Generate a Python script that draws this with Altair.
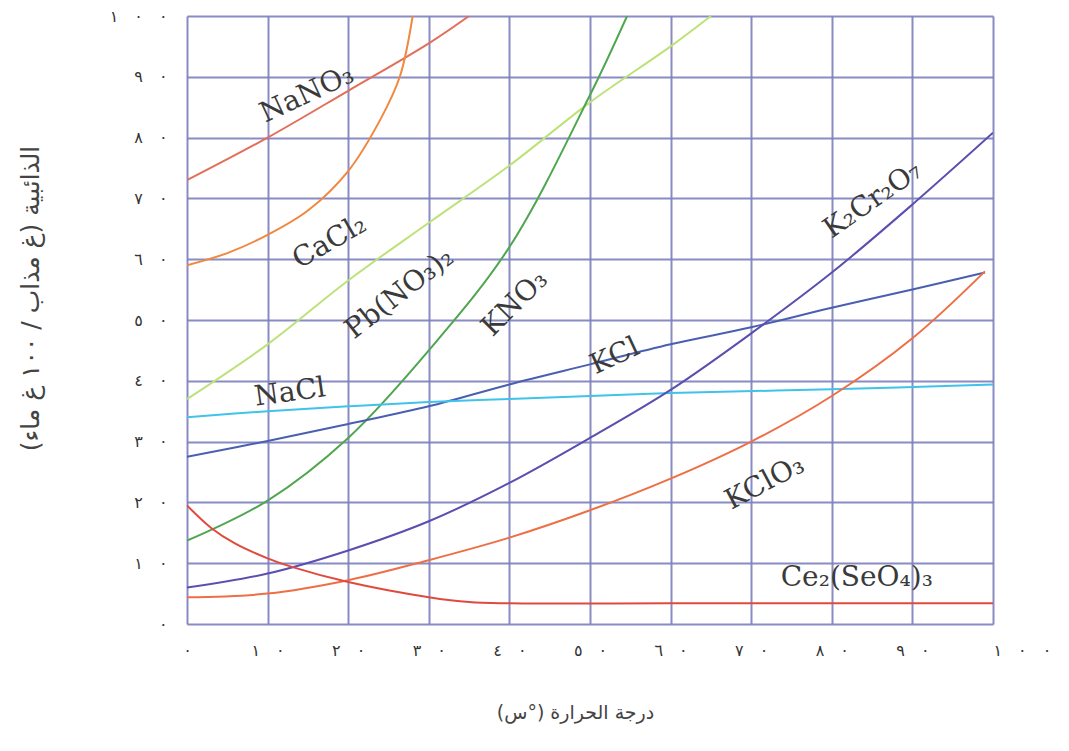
import altair as alt
import pandas as pd

# ---- curve data (temperature °C, solubility g / 100 g water) ----
nano3_x = [0, 10, 20, 30, 35]
nano3_y = [73, 80, 87.7, 95.5, 100]
cacl2_x = [0, 5, 10, 15, 20, 24, 26.4, 28]
cacl2_y = [59, 61, 64, 68, 74.5, 83, 90, 100]
pbno3_x = [0, 10, 20, 30, 40, 50, 60, 65]
pbno3_y = [37, 46, 56.5, 66, 75.4, 85.8, 95, 100]
kno3_x = [0, 10, 20, 30, 40, 50, 54.6]
kno3_y = [13.7, 20.3, 30.6, 45, 62, 87, 100]
kcl_x = [0, 10, 20, 30, 40, 50, 60, 70, 80, 90, 99]
kcl_y = [27.5, 30.1, 32.9, 35.8, 39.4, 42.7, 46, 48.8, 52, 55, 57.8]
nacl_x = [0, 10, 20, 30, 40, 50, 60, 80, 100]
nacl_y = [34, 35, 35.8, 36.5, 37, 37.5, 38, 38.6, 39.4]
k2cr2o7_x = [0, 10, 20, 30, 40, 50, 60, 70, 80, 90, 100]
k2cr2o7_y = [6, 8.3, 12.1, 16.9, 23.2, 30.6, 38.5, 47.8, 57.8, 69, 80.8]
kclo3_x = [0, 10, 20, 30, 40, 50, 60, 70, 80, 90, 99]
kclo3_y = [4.4, 5, 7.2, 10.5, 14.2, 18.7, 23.9, 30, 37.5, 47, 58]
ce_x = [0, 3, 6, 10, 13, 20, 30, 35, 40, 60, 80, 100]
ce_y = [19.5, 15.8, 13.2, 10.8, 9.4, 6.9, 4.4, 3.6, 3.4, 3.4, 3.4, 3.4]

series_names = ["NaNO3", "CaCl2", "PbNO3", "KNO3", "KCl", "NaCl", "K2Cr2O7", "KClO3", "Ce2SeO4"]
series_colors = ["#e0705a", "#f0883f", "#bde27a", "#4fa64f", "#4a5fb0", "#3fc3ea", "#5a4fae", "#ee6f45", "#e04a3e"]
series_xy = [(nano3_x, nano3_y), (cacl2_x, cacl2_y), (pbno3_x, pbno3_y), (kno3_x, kno3_y),
             (kcl_x, kcl_y), (nacl_x, nacl_y), (k2cr2o7_x, k2cr2o7_y), (kclo3_x, kclo3_y), (ce_x, ce_y)]

# ---- curve labels ----
label_text = ["NaNO₃", "CaCl₂", "Pb(NO₃)₂", "KNO₃", "KCl", "NaCl", "K₂Cr₂O₇", "KClO₃", "Ce₂(SeO₄)₃"]
label_x = [14.9, 17.7, 26.4, 40.7, 53.1, 12.8, 85.1, 71.7, 83.1]
label_y = [87.1, 62.8, 54.3, 52.7, 44.0, 38.0, 69.7, 23.2, 7.5]
label_angle = [335, 330, 322, 315, 335, 352, 325, 332, 0]

# ---- tick labels (Arabic-Indic digits) ----
tick_values = [0, 10, 20, 30, 40, 50, 60, 70, 80, 90, 100]
tick_labels = ["٠", "١٠", "٢٠", "٣٠", "٤٠", "٥٠", "٦٠", "٧٠", "٨٠", "٩٠", "١٠٠"]

rows = []
for name, (xs, ys) in zip(series_names, series_xy):
    for xv, yv in zip(xs, ys):
        rows.append({"compound": name, "t": xv, "s": yv})
curves = pd.DataFrame(rows)
labels = pd.DataFrame({"text": label_text, "t": label_x, "s": label_y, "angle": label_angle})

LRO, PDF, GAP = "\u202d", "\u202c", "\u2003"
expr = "''"
for v, l in reversed(list(zip(tick_values, tick_labels))):
    spaced = LRO + GAP.join(list(l)) + PDF
    expr = f"datum.value == {v} ? '{spaced}' : ({expr})"

xscale = alt.Scale(domain=[0, 100], nice=False)
yscale = alt.Scale(domain=[0, 100], nice=False)

x_axis = alt.Axis(values=tick_values, labelExpr=expr, grid=True, gridColor="#7c80bd", gridWidth=2,
                  gridOpacity=0.9, ticks=False, domain=False, labelFont="DejaVu Sans", labelFontSize=16,
                  labelColor="#333333", labelPadding=18, labelFlush=False, labelOverlap=False,
                  labelAlign={"condition": {"test": "datum.value == 100", "value": "left"}, "value": "center"},
                  title="درجة الحرارة (°س)",
                  titleFont="DejaVu Sans", titleFontSize=19, titleFontWeight="normal", titleColor="#444444",
                  titleX=388, titleY=88, titleAlign="center", titleBaseline="middle")
y_axis = alt.Axis(values=tick_values, labelExpr=expr, grid=True, gridColor="#7c80bd", gridWidth=2,
                  gridOpacity=0.9, ticks=False, domain=False, labelFont="DejaVu Sans", labelFontSize=16,
                  labelColor="#333333", labelPadding=20, labelFlush=False, labelOverlap=False,
                  title="الذائبية (غ مذاب / ١٠٠ غ ماء)",
                  titleFont="DejaVu Sans", titleFontSize=25, titleFontWeight="normal", titleColor="#444444",
                  titleX=-157, titleY=282, titleAngle=270, titleAlign="center", titleBaseline="middle")

lines = alt.Chart(curves).mark_line(interpolate="catmull-rom", strokeWidth=2, clip=True).encode(
    x=alt.X("t:Q", scale=xscale, axis=x_axis),
    y=alt.Y("s:Q", scale=yscale, axis=y_axis),
    color=alt.Color("compound:N", scale=alt.Scale(domain=series_names, range=series_colors), legend=None),
)

texts = alt.Chart(labels).mark_text(font="DejaVu Serif", fontSize=28, color="#3a3a3a",
                                    align="center", baseline="middle").encode(
    x=alt.X("t:Q", scale=xscale),
    y=alt.Y("s:Q", scale=yscale),
    text="text:N",
    angle=alt.Angle("angle:Q", scale=None),
)

chart = alt.layer(lines, texts).properties(
    width=806, height=608,
    autosize=alt.AutoSizeParams(type="none"),
    padding={"left": 179, "top": 8, "right": 60, "bottom": 110},
).configure_view(stroke=None)

chart.save("out.html", embed_options={"renderer": "svg", "actions": False})
